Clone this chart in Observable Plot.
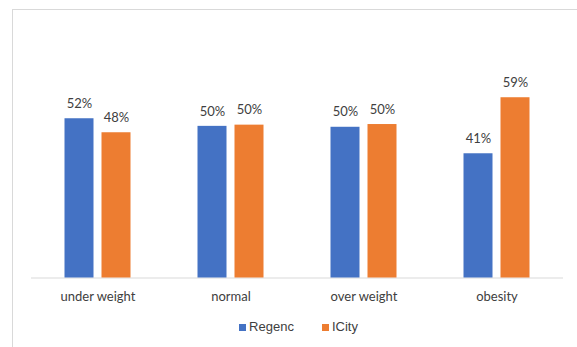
<!DOCTYPE html>
<html>
<head>
<meta charset="utf-8">
<script src="https://cdn.jsdelivr.net/npm/d3@7"></script>
<script src="https://cdn.jsdelivr.net/npm/@observablehq/plot@0.6"></script>
<style>
  html, body { margin: 0; padding: 0; background: #fff; overflow: hidden; width: 577px; height: 347px; }
  #frame { position: absolute; left: 12px; top: 9px; width: 600px; height: 400px; border: 1px solid #d9d9d9; box-sizing: border-box; }
  #chart { position: absolute; left: 0; top: 0; }
  #legend { position: absolute; left: 0; top: 319px; width: 597px; display: flex; justify-content: center; align-items: center; font-family: "Liberation Sans", Arial, sans-serif; font-size: 13px; color: #404040; line-height: 16px; }
  .item { display: flex; align-items: center; margin: 0 14px; }
  .sw { width: 7px; height: 7px; margin-right: 3px; }
</style>
</head>
<body>
<div id="frame"></div>
<div id="chart"></div>
<div id="legend"></div>
<script>
const categories = ["under weight", "normal", "over weight", "obesity"];
const seriesNames = ["Regenc", "ICity"];
const regenc = [52.3, 49.8, 49.5, 40.8];
const city = [47.7, 50.2, 50.4, 59.2];
const colors = ["#4472C4", "#ED7D31"];

const data = categories.flatMap((c, i) => [
  {category: c, series: seriesNames[0], value: regenc[i]},
  {category: c, series: seriesNames[1], value: city[i]}
]);

const chart = Plot.plot({
  width: 577,
  height: 310,
  marginLeft: 29.5,
  marginRight: 13.5,
  marginTop: 64.35,
  marginBottom: 32.5,
  style: {background: "transparent", fontFamily: "Lato, sans-serif"},
  fx: {domain: categories, padding: 0, label: null},
  x: {domain: seriesNames, paddingInner: 0.227, paddingOuter: 0.893, axis: null},
  y: {domain: [0, 70], axis: null},
  color: {domain: seriesNames, range: colors},
  marks: [
    Plot.ruleY([0], {stroke: "#d9d9d9", strokeWidth: 1}),
    Plot.barY(data, {fx: "category", x: "series", y: "value", fill: "series"}),
    Plot.text(data, {fx: "category", x: "series", y: "value", text: d => Math.round(d.value) + "%", dy: -15, fontSize: 13, fill: "#404040"}),
    Plot.axisFx({anchor: "bottom", tickSize: 0, tickPadding: 14, fontSize: 13, color: "#404040", label: null})
  ]
});
document.getElementById("chart").appendChild(chart);

const legend = document.getElementById("legend");
seriesNames.forEach((s, i) => {
  const item = document.createElement("div");
  item.className = "item";
  const sw = document.createElement("div");
  sw.className = "sw";
  sw.style.background = colors[i];
  const t = document.createElement("span");
  t.textContent = s;
  item.appendChild(sw);
  item.appendChild(t);
  legend.appendChild(item);
});
</script>
</body>
</html>
